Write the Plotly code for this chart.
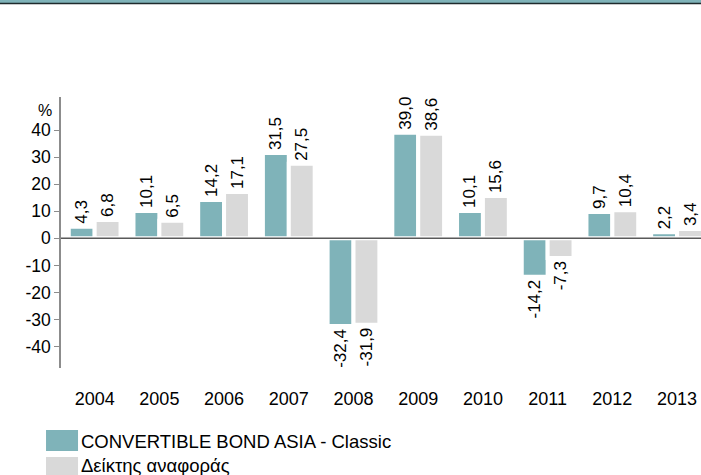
import plotly.graph_objects as go

years = ["2004", "2005", "2006", "2007", "2008", "2009", "2010", "2011", "2012", "2013"]
fund = [4.3, 10.1, 14.2, 31.5, -32.4, 39.0, 10.1, -14.2, 9.7, 2.2]
bench = [6.8, 6.5, 17.1, 27.5, -31.9, 38.6, 15.6, -7.3, 10.4, 3.4]
ytick_vals = [40, 30, 20, 10, 0, -10, -20, -30, -40]
ytick_text = ["40", "30", "20", "10", "0", "-10", "-20", "-30", "-40"]
names = ["CONVERTIBLE BOND ASIA - Classic", "Δείκτης αναφοράς"]

TEAL = "#7FB3B9"
GREY = "#D9D9D9"
FONT = "Liberation Sans, Arial, sans-serif"


def fmt(v):
    return f"{v:.1f}".replace(".", ",")


fig = go.Figure()
for vals, col, nm in [(fund, TEAL, names[0]), (bench, GREY, names[1])]:
    fig.add_trace(go.Bar(
        x=years, y=vals, name=nm,
        marker=dict(color=col, line=dict(color="white", width=4)),
        text=[fmt(v) for v in vals],
        textposition="outside", textangle=-90,
        textfont=dict(family=FONT, size=17, color="#000000"),
        constraintext="none", cliponaxis=False,
        showlegend=False,
    ))

fig.update_layout(
    width=701, height=475,
    margin=dict(l=61, r=0, t=97, b=107, autoexpand=False),
    paper_bgcolor="white", plot_bgcolor="white",
    barmode="group", bargap=0.2, bargroupgap=0.0,
    font=dict(family=FONT, color="#000000"),
    xaxis=dict(
        type="category", range=[-0.52, 9.37],
        showgrid=False, showline=False, zeroline=False,
        ticks="outside", ticklen=14, tickcolor="rgba(0,0,0,0)",
        tickfont=dict(size=18, family=FONT, color="#000000"),
    ),
    yaxis=dict(
        range=[-47.9, 52.2],
        tickvals=ytick_vals, ticktext=ytick_text,
        showgrid=False, showline=True, linecolor="#8C8C8C", linewidth=1.5,
        ticks="outside", ticklen=5, tickcolor="#8C8C8C", tickwidth=1,
        zeroline=False,
        tickfont=dict(size=17.5, family=FONT, color="#000000"),
    ),
)

# zero reference line drawn above the bars
fig.add_hline(y=0, line=dict(color="#595959", width=1.5), layer="above")

# "%" unit label
fig.add_annotation(x=-0.025, y=0.952, xref="paper", yref="paper", text="%",
                   showarrow=False, font=dict(size=16, family=FONT, color="#000000"),
                   xanchor="center", yanchor="middle")

# top banner
fig.add_shape(type="rect", xref="paper", yref="paper", x0=-0.1, x1=1.0,
              y0=1.3469, y1=1.37, fillcolor=TEAL, line=dict(width=0), layer="above")
fig.add_shape(type="line", xref="paper", yref="paper", x0=-0.1, x1=1.0,
              y0=1.3450, y1=1.3450, line=dict(color="#1E2A2C", width=1.5))

# custom legend
legend_rows = [(names[0], TEAL, -0.2288, -0.3063, -0.2694),
               (names[1], GREY, -0.3284, -0.42, -0.3616)]
for nm, col, ya, yb, yc in legend_rows:
    fig.add_shape(type="rect", xref="paper", yref="paper", x0=-0.0234, x1=0.0266,
                  y0=yb, y1=ya, fillcolor=col, line=dict(width=0))
    fig.add_annotation(x=0.0281, y=yc, xref="paper", yref="paper", text=nm,
                       showarrow=False, xanchor="left", yanchor="middle",
                       font=dict(size=18.5, family=FONT, color="#000000"))

fig.write_html("out.html", config={"displayModeBar": False},
               post_script="document.body.style.margin='0';document.body.style.padding='0';")
